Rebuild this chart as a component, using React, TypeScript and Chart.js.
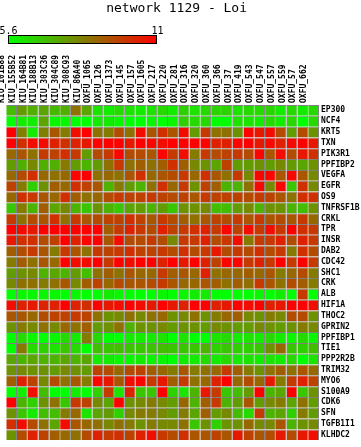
import React, { useEffect, useRef } from "react";
import { Chart, registerables } from "chart.js";

Chart.register(...registerables);

const samples = [
  "KIU_101B88", "KIU_155B52", "KIU_164B81", "KIU_188B13", "KIU_303C36", "KIU_304C89",
  "KIU_308C93", "KIU_86A40", "OXFU_1065", "OXFU_126", "OXFU_1373", "OXFU_145",
  "OXFU_157", "OXFU_1605", "OXFU_217", "OXFU_220", "OXFU_281", "OXFU_316", "OXFU_320",
  "OXFU_360", "OXFU_366", "OXFU_37", "OXFU_419", "OXFU_543", "OXFU_547", "OXFU_557",
  "OXFU_559", "OXFU_57", "OXFU_662",
];

const genes = [
  "EP300", "NCF4", "KRT5", "TXN", "PIK3R1", "PPFIBP2", "VEGFA", "EGFR", "OS9", "TNFRSF1B",
  "CRKL", "TPR", "INSR", "DAB2", "CDC42", "SHC1", "CRK", "ALB", "HIF1A", "THOC2", "GPRIN2",
  "PPFIBP1", "TIE1", "PPP2R2B", "TRIM32", "MYO6", "S100A9", "CDK6", "SFN", "TGFB1I1", "KLHDC2",
];

const scaleMin = 5.6;
const scaleMax = 11;

const ep300 = [7.0,7.7,7.3,7.5,7.1,7.3,8.6,7.5,6.2,6.0,6.4,6.2,6.0,6.2,6.4,6.0,6.6,6.2,6.4,6.5,6.5,6.2,6.4,6.4,6.5,6.0,6.4,6.0,6.4];
const ncf4 = [5.6,6.0,6.0,7.5,5.8,5.8,5.6,5.6,6.0,6.0,5.8,5.6,5.6,5.8,5.6,5.8,6.6,6.4,6.4,5.6,5.6,6.2,6.2,6.0,6.4,6.0,6.4,5.6,6.4];
const krt5 = [11,8.3,6.0,8.3,9.2,8.4,10.7,11,8.6,8.4,9.4,8.6,10.7,9.2,10.0,9.2,10.7,7.7,9.8,8.6,8.6,7.9,10.9,10.5,10.7,9.4,7.7,9.4,7.9];
const txn = [11,10.0,10.7,10.8,10.3,10.0,10.3,10.5,11,11,11,10.5,11,10.9,10.7,11,11,11,11,10.3,10.3,10.9,11,10.5,10.8,10.3,10.8,11,10.5];
const pik3r1 = [8.8,9.2,8.6,9.8,9.6,10.0,9.8,7.7,9.4,9.8,10.9,9.4,9.4,9.2,10.9,9.8,10.7,8.4,9.8,9.4,9.6,9.8,9.4,10.9,9.2,10.7,9.4,10.5,10.0];
const ppfibp2 = [7.7,7.3,8.1,7.3,7.3,8.4,7.7,7.2,7.7,8.6,9.8,8.6,9.0,8.6,9.0,10.0,9.0,8.1,7.9,7.5,9.6,7.7,7.7,7.9,7.7,8.1,7.7,7.5,7.9];
const vegfa = [8.8,9.4,10.0,8.8,8.6,8.8,10.9,11,8.6,8.8,8.6,9.2,10.0,8.8,9.2,9.4,9.8,8.8,10.0,9.2,8.6,9.8,8.1,10.9,10.9,9.2,10.9,9.2,8.1];
const egfr = [9.6,8.4,6.6,7.9,9.0,8.8,10.0,9.6,9.2,7.2,8.4,7.7,7.2,8.6,10.0,8.8,9.8,7.9,9.6,9.0,7.2,7.2,8.6,10.8,8.1,10.9,6.8,10.0,8.1];
const os9 = [8.8,10.0,9.8,9.2,8.8,10.0,9.0,8.6,8.8,9.4,9.8,9.6,9.6,9.8,9.6,9.4,9.6,9.2,9.8,9.6,9.6,9.6,9.4,9.8,9.6,9.2,8.6,10.0,10.0];
const tnfrsf1b = [6.8,8.4,7.2,9.0,7.5,8.1,7.2,6.8,7.9,7.2,6.8,7.5,7.7,7.2,7.7,6.8,7.9,7.9,8.1,7.0,7.0,7.7,8.1,7.2,7.9,7.9,7.2,7.0,7.9];
const crkl = [9.8,8.6,9.4,9.2,10.0,8.6,9.8,9.2,9.4,9.6,9.6,10.0,9.6,9.2,9.8,9.4,9.0,8.6,9.2,9.6,9.4,9.8,9.2,9.8,9.2,9.4,9.2,9.8,8.8];
const tpr = [11,10.8,10.5,11,11,11,11,11,11,9.0,9.8,10.3,9.8,9.4,10.3,9.6,9.8,10.0,10.3,9.8,10.9,9.6,10.7,9.8,10.7,9.8,11,10.0,9.8];
const insr = [10.5,10.0,10.0,9.4,9.6,11,10.3,10.9,11,9.2,10.7,9.4,9.4,9.8,9.4,8.1,9.8,9.8,10.3,9.4,9.8,10.7,8.4,9.8,9.8,10.3,9.4,10.3,9.8];
const dab2 = [9.0,9.4,9.8,9.2,8.4,9.8,9.2,8.6,9.8,9.6,9.8,10.0,9.6,9.6,9.8,9.4,10.0,9.4,9.8,10.5,9.4,9.8,9.4,10.0,9.4,9.8,8.4,10.0,9.4];
const cdc42 = [8.4,9.0,8.6,9.2,8.8,11,10.7,10.7,11,9.8,11,10.7,11,11,10.3,11,10.5,11,10.3,9.6,10.9,10.9,9.8,10.3,9.8,11,9.8,11,9.8];
const shc1 = [7.7,7.9,8.1,7.2,7.5,7.2,7.7,7.0,8.6,9.0,8.6,9.2,8.8,8.8,9.8,9.0,9.2,8.8,10.3,8.6,8.8,8.8,9.0,8.8,9.2,8.4,8.8,9.4,8.4];
const crk = [8.1,8.6,8.6,8.4,8.6,9.2,8.1,9.0,9.6,8.8,9.4,9.2,9.2,9.4,9.8,9.2,8.8,8.8,9.2,9.0,8.6,9.0,8.6,9.8,9.2,8.6,9.4,9.0,8.4];
const alb = [5.6,5.8,5.8,5.8,5.8,5.6,5.8,5.6,5.6,6.0,5.8,5.6,5.6,5.6,5.8,5.6,5.8,6.0,6.0,5.6,5.6,5.6,5.6,5.8,5.6,6.0,5.6,9.8,5.6];
const hif1a = [10.7,10.3,10.5,10.3,10.3,11,10.3,10.0,11,10.5,10.7,11,10.7,10.5,11,10.5,10.3,11,11,10.3,10.5,11,10.7,11,10.3,10.5,11,11,10.7];
const thoc2 = [9.2,9.2,8.8,9.4,9.6,9.6,9.8,9.6,8.6,7.9,8.1,8.6,8.1,8.6,8.8,7.9,8.1,8.6,7.9,8.4,8.8,9.0,8.1,7.9,8.4,8.1,9.4,9.4,7.9];
const gprin2 = [7.9,8.4,8.1,8.6,8.1,8.8,8.6,9.0,7.7,7.9,8.6,7.2,7.9,7.9,8.1,7.7,7.9,7.9,7.7,8.1,7.9,7.7,7.7,8.1,7.9,7.7,7.9,8.4,8.1];
const ppfibp1 = [5.6,6.4,5.8,5.6,5.8,6.4,6.0,8.4,6.4,5.6,5.6,6.0,6.0,6.0,6.2,5.6,6.2,5.6,5.6,6.2,6.4,6.0,6.2,6.0,6.4,6.0,5.8,6.4,5.8];
const tie1 = [5.6,8.4,6.4,6.6,6.2,6.8,6.4,5.6,7.0,6.8,7.0,6.8,6.8,6.8,7.0,6.8,6.8,6.8,7.2,6.6,6.8,6.6,6.6,6.8,7.9,8.8,6.8,6.6,7.0];
const ppp2r2b = [7.5,7.2,7.5,7.2,7.2,7.5,7.2,7.5,6.0,6.0,5.8,5.8,6.0,5.8,5.8,5.6,6.0,6.0,6.4,6.0,6.4,6.0,6.2,6.0,6.2,6.0,6.4,5.6,6.2];
const trim32 = [7.9,8.1,7.9,7.9,7.7,8.1,7.9,7.7,9.6,9.4,8.8,9.4,9.6,9.0,8.8,8.4,9.2,8.4,8.6,8.8,9.8,9.0,8.4,7.9,8.6,9.0,8.6,9.2,8.8];
const myo6 = [9.0,10.3,9.6,8.1,9.4,8.6,9.2,8.4,10.9,10.5,9.2,10.7,10.9,9.8,10.5,9.0,9.8,8.6,8.8,10.3,11,8.8,9.4,8.8,10.5,8.4,9.8,10.3,9.6];
const s100a9 = [5.6,6.0,10.7,7.0,5.6,5.6,6.0,5.6,6.6,9.8,6.2,10.3,6.8,6.8,11,6.6,6.2,7.2,10.5,9.8,6.8,7.0,7.7,11,7.2,7.5,11,6.8,7.9];
const cdk6 = [11,7.2,6.6,7.9,8.6,6.8,9.8,9.6,8.1,7.5,11,7.9,8.1,8.4,8.1,7.7,8.8,7.2,9.0,9.8,7.2,7.7,9.2,7.7,8.1,8.4,7.5,8.6,7.7];
const sfn = [7.9,6.8,6.0,7.0,7.0,8.4,8.8,6.2,7.5,7.7,6.6,8.1,8.4,8.4,8.1,7.7,8.4,7.5,9.0,7.7,8.1,7.0,6.4,9.8,7.2,7.5,6.6,8.4,7.7];
const tgfb1i1 = [10.0,10.7,9.4,8.6,7.5,10.7,9.2,8.8,8.6,8.1,8.6,8.4,7.9,8.4,8.1,8.1,8.6,6.8,7.9,6.6,7.9,7.9,8.8,8.1,8.1,9.2,7.2,7.9,8.1];
const klhdc2 = [7.9,9.4,10.3,9.6,9.0,8.8,8.6,9.4,10.3,9.8,10.0,9.6,10.3,10.7,9.8,9.4,10.0,9.2,9.2,9.6,9.2,10.5,9.6,9.2,9.4,10.5,9.4,10.5,10.7];

const rows = [
  ep300, ncf4, krt5, txn, pik3r1, ppfibp2, vegfa, egfr, os9, tnfrsf1b, crkl, tpr, insr, dab2,
  cdc42, shc1, crk, alb, hif1a, thoc2, gprin2, ppfibp1, tie1, ppp2r2b, trim32, myo6, s100a9,
  cdk6, sfn, tgfb1i1, klhdc2,
];

function valueColor(v: number): string {
  let t = (v - scaleMin) / (scaleMax - scaleMin);
  t = Math.max(0, Math.min(1, t));
  const r = Math.round(255 * t);
  const g = Math.round(255 * (1 - t));
  return `rgb(${r},${g},0)`;
}

const MONO = "'DejaVu Sans Mono', monospace";
const GRID = "rgb(128,128,128)";

const colorBarPlugin = {
  id: "colorBar",
  afterDraw(chart: any) {
    const ctx = chart.ctx as CanvasRenderingContext2D;
    const left = 8;
    const right = 157;
    const top = 35;
    const bottom = 44;
    ctx.save();
    const grad = ctx.createLinearGradient(left, 0, right, 0);
    grad.addColorStop(0, valueColor(scaleMin));
    grad.addColorStop(0.5, valueColor((scaleMin + scaleMax) / 2));
    grad.addColorStop(1, valueColor(scaleMax));
    ctx.fillStyle = grad;
    ctx.fillRect(left, top, right - left, bottom - top);
    ctx.strokeStyle = "#000";
    ctx.lineWidth = 1;
    ctx.strokeRect(left + 0.5, top + 0.5, right - left - 1, bottom - top - 1);
    ctx.fillStyle = "#000";
    ctx.font = `10px ${MONO}`;
    ctx.textAlign = "center";
    ctx.textBaseline = "alphabetic";
    ctx.fillText(String(scaleMin), left + 0.5, 33.5);
    ctx.fillText(String(scaleMax), right + 0.5, 33.5);
    ctx.restore();
  },
};

export default function App() {
  const canvasRef = useRef<HTMLCanvasElement | null>(null);

  useEffect(() => {
    if (!canvasRef.current) return;
    const titleFont = 13;
    const titlePadTop = 1;
    const titleHeight = titleFont * 1.2 + titlePadTop;

    const datasets = genes.map((gene, ri) => ({
      label: gene,
      data: samples.map(() => 1),
      backgroundColor: rows[ri].map((v) => valueColor(v)),
      borderColor: GRID,
      borderWidth: { top: 1, right: 1, bottom: 0, left: 0 },
      borderSkipped: false,
      inflateAmount: 0,
      barPercentage: 1,
      categoryPercentage: 1,
    }));

    const chart = new Chart(canvasRef.current, {
      type: "bar",
      data: { labels: samples, datasets: datasets as any },
      plugins: [colorBarPlugin],
      options: {
        responsive: false,
        animation: false,
        devicePixelRatio: 1,
        layout: { padding: { left: 0, right: 0, top: 0, bottom: 1 } },
        plugins: {
          legend: { display: false },
          tooltip: { enabled: false },
          title: {
            display: true,
            text: "network 1129 - Loi ",
            color: "#000",
            font: { family: MONO, size: titleFont, weight: "normal" },
            padding: { top: titlePadTop, bottom: 0 },
          },
        },
        scales: {
          x: {
            type: "category",
            position: "top",
            stacked: true,
            offset: true,
            grid: { display: false, drawTicks: false },
            border: { display: false },
            ticks: {
              autoSkip: false,
              minRotation: 90,
              maxRotation: 90,
              padding: 2,
              color: "#000",
              font: { family: MONO, size: 8, weight: "bold" },
            },
            afterFit: (scale: any) => {
              scale.height = 105 - titleHeight;
            },
          },
          y: {
            type: "linear",
            position: "right",
            stacked: true,
            reverse: true,
            min: 0,
            max: genes.length,
            grid: { display: false, drawTicks: false },
            border: { display: false },
            afterBuildTicks: (scale: any) => {
              scale.ticks = genes.map((_, i) => ({ value: i + 0.5 }));
            },
            ticks: {
              autoSkip: false,
              padding: 2,
              color: "#000",
              font: { family: MONO, size: 8, weight: "bold" },
              callback: (_value: any, index: number) => genes[index],
            },
            afterFit: (scale: any) => {
              scale.width = 42;
            },
          },
        },
      } as any,
    });
    return () => chart.destroy();
  }, []);

  return (
    <div style={{ position: "absolute", left: 0, top: 0, width: 361, height: 447, background: "#fff" }}>
      <canvas ref={canvasRef} width={361} height={447} style={{ display: "block", width: 361, height: 447 }} />
    </div>
  );
}
